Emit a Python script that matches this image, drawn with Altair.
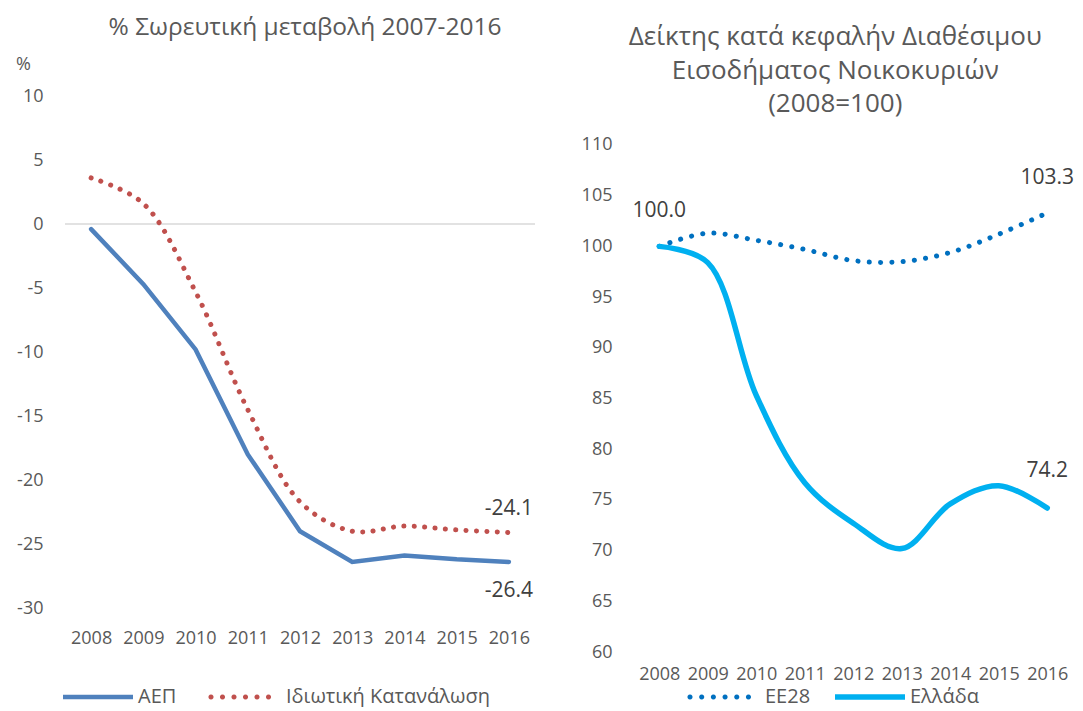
import math
import altair as alt
import pandas as pd

# ---------------- data ----------------
years = ["2008", "2009", "2010", "2011", "2012", "2013", "2014", "2015", "2016"]

gdp = [-0.4, -4.7, -9.8, -18.0, -24.0, -26.4, -25.9, -26.2, -26.4]
consumption = [3.6, 1.6, -5.3, -14.5, -21.7, -24.0, -23.6, -23.9, -24.1]

eu28 = [100.0, 101.3, 100.6, 99.7, 98.6, 98.5, 99.4, 101.2, 103.3]
greece = [100.0, 98.4, 85.3, 76.7, 72.7, 70.2, 74.6, 76.4, 74.2]

left_series = ["ΑΕΠ", "Ιδιωτική Κατανάλωση"]
right_series = ["ΕΕ28", "Ελλάδα"]

left_ticks = [-30, -25, -20, -15, -10, -5, 0, 5, 10]
right_ticks = [60, 65, 70, 75, 80, 85, 90, 95, 100, 105, 110]

left_title = "% Σωρευτική μεταβολή 2007-2016"
right_title = ["Δείκτης κατά κεφαλήν Διαθέσιμου", "Εισοδήματος Νοικοκυριών", "(2008=100)"]

# ---------------- tables ----------------
left_df = pd.DataFrame({
    "year": years * 2,
    "value": gdp + consumption,
    "series": [left_series[0]] * len(years) + [left_series[1]] * len(years),
})
left_df["label"] = left_df["value"].map(lambda v: f"{v:.1f}")

right_df = pd.DataFrame({
    "year": years * 2,
    "value": eu28 + greece,
    "series": [right_series[0]] * len(years) + [right_series[1]] * len(years),
})
right_df["label"] = right_df["value"].map(lambda v: f"{v:.1f}")

FONT = "Open Sans"
TXT = "#595959"
LAB = "#404040"


# legend symbol paths (normalized [-1, 1] box, scaled by 35 px)
def bar_path(half):
    return f"M-1,{-half}L1,{-half}L1,{half}L-1,{half}Z"


def dots_path(n, step, r):
    parts = []
    for i in range(n):
        cx = -1 + i * step
        pts = [(cx + r * math.cos(k * math.pi / 6), r * math.sin(k * math.pi / 6)) for k in range(12)]
        parts.append("M" + "L".join(f"{px:.4f},{py:.4f}" for px, py in pts) + "Z")
    return "".join(parts)


def make_legend(lx, ly, colpad):
    return alt.Legend(title=None, orient="none", legendX=lx, legendY=ly, direction="horizontal",
                      symbolSize=4900, symbolStrokeWidth=0, symbolOpacity=1,
                      labelFontSize=20, labelFont=FONT, labelColor=TXT, labelOffset=5,
                      labelLimit=0, columnPadding=colpad, padding=0)


# ---------------- left panel ----------------
xl = alt.X("year:O", scale=alt.Scale(type="point", padding=0.5),
           axis=alt.Axis(title=None, labelAngle=0, ticks=False, domain=False,
                         labelPadding=21, labelFontSize=18, labelColor=TXT, labelFont=FONT))
yl = alt.Y("value:Q", scale=alt.Scale(domain=[-30, 10], nice=False, zero=False),
           axis=alt.Axis(values=left_ticks, grid=False, domain=False, ticks=False,
                         labelPadding=22, labelFontSize=18, labelColor=TXT, labelFont=FONT,
                         labelExpr="'' + datum.value",
                         title="%", titleAngle=0, titleX=-42, titleY=-32,
                         titleAlign="center", titleBaseline="middle",
                         titleFontSize=18, titleFontWeight="normal", titleColor=TXT, titleFont=FONT))

left_legend = make_legend(-2, 566, 31)
lbase = alt.Chart(left_df)
zero_rule = alt.Chart(pd.DataFrame({"v": [0]})).mark_rule(color="#D9D9D9", strokeWidth=1.5).encode(y="v:Q")
gdp_line = lbase.transform_filter(alt.datum.series == left_series[0]).mark_line(
    color="#4F81BD", strokeWidth=4.5, strokeCap="round", interpolate="linear").encode(x=xl, y=yl)
cons_line = lbase.transform_filter(alt.datum.series == left_series[1]).mark_line(
    color="#C0504D", strokeWidth=5, strokeCap="round", strokeDash=[0.1, 10.3],
    interpolate="catmull-rom").encode(x=xl, y=yl)
left_key = lbase.transform_filter("false").mark_point(filled=True, opacity=1).encode(
    x=xl, y=yl,
    color=alt.Color("series:N", scale=alt.Scale(domain=left_series, range=["#4F81BD", "#C0504D"]),
                    legend=left_legend),
    shape=alt.Shape("series:N",
                    scale=alt.Scale(domain=left_series,
                                    range=[bar_path(0.066), dots_path(6, 0.3286, 0.074)]),
                    legend=left_legend),
)
gdp_lab = lbase.transform_filter((alt.datum.series == left_series[0]) & (alt.datum.year == "2016")).mark_text(
    fontSize=21, font=FONT, color=LAB, dy=29, baseline="middle").encode(x=xl, y=yl, text="label:N")
cons_lab = lbase.transform_filter((alt.datum.series == left_series[1]) & (alt.datum.year == "2016")).mark_text(
    fontSize=21, font=FONT, color=LAB, dy=-23, baseline="middle").encode(x=xl, y=yl, text="label:N")

left = alt.layer(zero_rule, gdp_line, cons_line, left_key, gdp_lab, cons_lab).properties(
    width=470, height=512,
    title=alt.TitleParams(text=left_title, fontSize=24.5, font=FONT, color=TXT, fontWeight="normal",
                          anchor="middle", frame="group", dx=5, offset=15),
)

# ---------------- right panel ----------------
xr = alt.X("year:O", scale=alt.Scale(type="point", padding=0.5),
           axis=alt.Axis(title=None, labelAngle=0, ticks=False, domain=False,
                         labelPadding=13, labelFontSize=18, labelColor=TXT, labelFont=FONT))
yr = alt.Y("value:Q", scale=alt.Scale(domain=[60, 114.83], nice=False, zero=False),
           axis=alt.Axis(values=right_ticks, grid=False, domain=False, ticks=False,
                         labelPadding=23, labelFontSize=18, labelColor=TXT, labelFont=FONT,
                         title=None))

right_legend = make_legend(55, 566, 24)
rbase = alt.Chart(right_df)
eu_line = rbase.transform_filter(alt.datum.series == right_series[0]).mark_line(
    color="#0070C0", strokeWidth=5, strokeCap="round", strokeDash=[0.1, 11.2],
    interpolate="catmull-rom").encode(x=xr, y=yr)
gr_line = rbase.transform_filter(alt.datum.series == right_series[1]).mark_line(
    color="#00B0F0", strokeWidth=5.5, strokeCap="round", interpolate="catmull-rom").encode(x=xr, y=yr)
right_key = rbase.transform_filter("false").mark_point(filled=True, opacity=1).encode(
    x=xr, y=yr,
    color=alt.Color("series:N", scale=alt.Scale(domain=right_series, range=["#0070C0", "#00B0F0"]),
                    legend=right_legend),
    shape=alt.Shape("series:N",
                    scale=alt.Scale(domain=right_series,
                                    range=[dots_path(6, 0.334, 0.074), bar_path(0.078)]),
                    legend=right_legend),
)
lab_start = rbase.transform_filter((alt.datum.series == right_series[1]) & (alt.datum.year == "2008")).mark_text(
    fontSize=21, font=FONT, color=LAB, dy=-35, baseline="middle").encode(x=xr, y=yr, text="label:N")
lab_eu = rbase.transform_filter((alt.datum.series == right_series[0]) & (alt.datum.year == "2016")).mark_text(
    fontSize=21, font=FONT, color=LAB, dy=-35, baseline="middle").encode(x=xr, y=yr, text="label:N")
lab_gr = rbase.transform_filter((alt.datum.series == right_series[1]) & (alt.datum.year == "2016")).mark_text(
    fontSize=21, font=FONT, color=LAB, dy=-37, baseline="middle").encode(x=xr, y=yr, text="label:N")

right = alt.layer(eu_line, gr_line, right_key, lab_start, lab_eu, lab_gr).properties(
    width=436.5, height=556,
    title=alt.TitleParams(text=right_title, fontSize=26, font=FONT, color=TXT, fontWeight="normal",
                          lineHeight=33.5, anchor="middle", frame="group", dx=-18, offset=-21),
)

chart = alt.hconcat(left, right, spacing=100, bounds="flush").resolve_scale(
    x="independent", y="independent", color="independent", shape="independent"
).resolve_legend(color="independent", shape="independent").properties(
    padding={"left": 7, "top": 6, "right": 0, "bottom": 0}
).configure_view(stroke=None)

chart.save("out.html", embed_options={"renderer": "svg", "actions": False})
